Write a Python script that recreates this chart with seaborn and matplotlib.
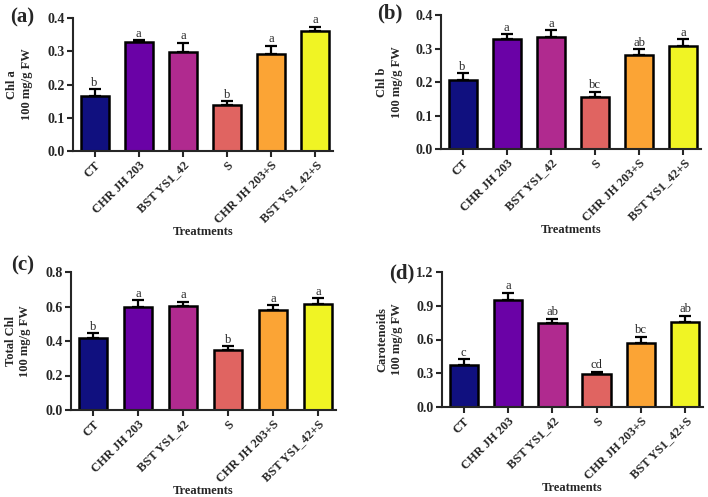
import numpy as np
import pandas as pd
import seaborn as sns
import matplotlib
matplotlib.use("Agg")
import matplotlib.pyplot as plt

# Treatments and bar colours
treatments = ["CT", "CHR JH 203", "BST YS1_42", "S", "CHR JH 203+S", "BST YS1_42+S"]
colors = ["#10107f", "#6a02a6", "#b02a8f", "#e06461", "#fba435", "#f0f424"]

# Means, upper error and significance letters for each panel
chla_mean = [0.166, 0.327, 0.298, 0.137, 0.292, 0.362]
chla_err = [0.019, 0.006, 0.027, 0.013, 0.024, 0.012]
chla_sig = ["b", "a", "a", "b", "a", "a"]

chlb_mean = [0.206, 0.327, 0.335, 0.155, 0.281, 0.307]
chlb_err = [0.020, 0.016, 0.020, 0.016, 0.017, 0.020]
chlb_sig = ["b", "a", "a", "bc", "ab", "a"]

total_mean = [0.420, 0.600, 0.605, 0.345, 0.580, 0.615]
total_err = [0.025, 0.035, 0.023, 0.025, 0.028, 0.033]
total_sig = ["b", "a", "a", "b", "a", "a"]

carot_mean = [0.370, 0.950, 0.750, 0.290, 0.565, 0.755]
carot_err = [0.055, 0.065, 0.035, 0.025, 0.060, 0.055]
carot_sig = ["c", "a", "ab", "cd", "bc", "ab"]

sns.set_style("ticks")
plt.rcParams["font.family"] = ["Liberation Serif", "DejaVu Serif"]

W, H = 708, 497
fig = plt.figure(figsize=(W / 100, H / 100), dpi=100)


def px_axes(left, right, top, bottom):
    return fig.add_axes([left / W, 1 - bottom / H, (right - left) / W, (bottom - top) / H])


panels = [
    # (box px, tag, tag pos px, ylabel, mean, err, sig, ymax, step, xlabelpad, ylabel x)
    ((73, 333, 18, 151), "(a)", (10, 17), "Chl a\n100 mg/g FW", chla_mean, chla_err, chla_sig, 0.4, 0.1, 0, -0.155),
    ((441, 701, 15, 149), "(b)", (377, 13), "Chl b\n100 mg/g FW", chlb_mean, chlb_err, chlb_sig, 0.4, 0.1, 0, -0.148),
    ((71, 336, 272, 410), "(c)", (11, 265), "Total Chl\n100 mg/g FW", total_mean, total_err, total_sig, 0.8, 0.2, 0, -0.15),
    ((442, 703, 272, 407), "(d)", (389, 273), "Carotenoids\n100 mg/g FW", carot_mean, carot_err, carot_sig, 1.2, 0.3, 0, -0.15),
]

for box, tag, tagpos, ylab, mean, err, sig, ymax, step, lpad, ylx in panels:
    ax = px_axes(*box)
    df = pd.DataFrame({"treatment": treatments, "value": mean})
    sns.barplot(data=df, x="treatment", y="value", hue="treatment", palette=colors,
                saturation=1, legend=False, edgecolor="black", linewidth=1.8, width=0.64,
                errorbar=None, ax=ax, zorder=2)
    xs = np.arange(len(treatments))
    ax.errorbar(xs, mean, yerr=[np.zeros(len(mean)), err], fmt="none",
                ecolor="black", elinewidth=1.6, capsize=4.5, capthick=1.6, zorder=1)
    for x, m, e, s in zip(xs, mean, err, sig):
        ax.text(x, m + e + ymax * 0.004, s, ha="center", va="bottom", fontsize=9)

    ticks = np.arange(0, ymax + step / 2, step)
    ax.set_xlim(-0.49, len(treatments) - 0.6)
    ax.set_ylim(0, ymax)
    ax.set_yticks(ticks)
    ax.set_yticklabels([f"{v:.1f}" for v in ticks], fontweight="bold", fontsize=10)
    ax.set_xticks(xs)
    ax.set_xticklabels(treatments, rotation=45, ha="right", rotation_mode="anchor",
                       fontweight="bold", fontsize=9)
    ax.set_xlabel("Treatments", fontweight="bold", fontsize=9, labelpad=lpad)
    ax.set_ylabel(ylab, fontweight="bold", fontsize=9, linespacing=1.3)
    ax.yaxis.set_label_coords(ylx, 0.5)
    for side in ["top", "right"]:
        ax.spines[side].set_visible(False)
    for side in ["left", "bottom"]:
        ax.spines[side].set_linewidth(1.5)
    ax.tick_params(axis="both", width=1.5, length=4, direction="out", pad=2)
    fig.text(tagpos[0] / W, 1 - tagpos[1] / H, tag, fontsize=15, fontweight="bold",
             ha="left", va="center")

fig.savefig("out.png", dpi=100)
